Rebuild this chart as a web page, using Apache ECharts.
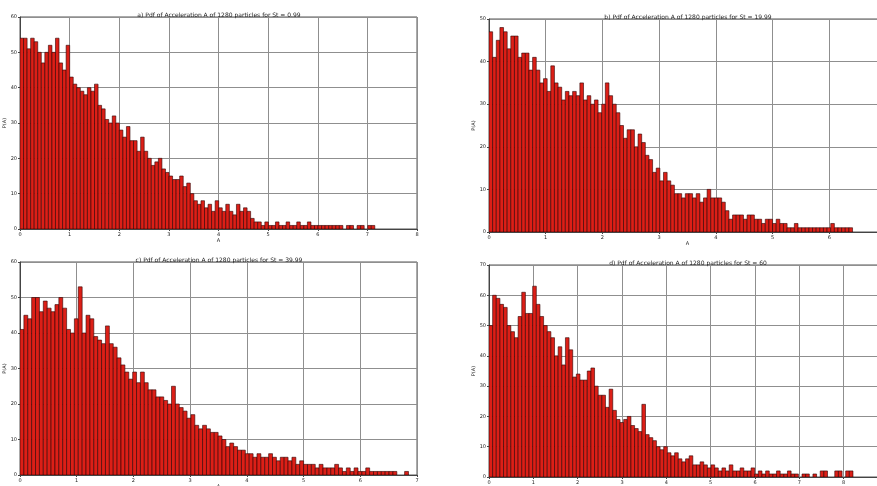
<!DOCTYPE html>
<html>
<head>
<meta charset="utf-8">
<script src="https://cdn.jsdelivr.net/npm/echarts@6/dist/echarts.min.js"></script>
<style>
html,body{margin:0;padding:0;background:#fff;}
#chart{width:877px;height:486px;}
</style>
</head>
<body>
<div id="chart"></div>
<script>
// Panel titles
const titles = [
  'a) Pdf of Acceleration A of 1280 particles for St = 0.99',
  'b) Pdf of Acceleration A of 1280 particles for St = 19.99',
  'c) Pdf of Acceleration A of 1280 particles for St = 39.99',
  'd) Pdf of Acceleration A of 1280 particles for St = 60'
];
// Histogram range (max A reached by last bin) per panel; 100 bins each
const rangeMax = [7.15, 6.41, 6.85, 8.21];
// Axis limits
const xMax = [8, 7, 7, 9];
const yMax = [60, 50, 60, 70];

// Bin counts P(A) (100 bins each)
const countsA = [54,54,51,54,53,50,47,50,52,50,54,47,45,52,43,41,40,39,38,40,
  39,41,35,34,31,30,32,30,28,26,29,25,25,22,26,22,20,18,19,20,
  17,16,15,14,14,15,12,13,10,8,7,8,6,7,5,8,6,5,7,5,
  4,7,5,6,5,3,2,2,1,2,1,1,2,1,1,2,1,1,2,1,
  1,2,1,1,1,1,1,1,1,1,1,0,1,1,0,1,1,0,1,1];
const countsB = [47,41,45,48,47,43,46,46,41,42,42,38,41,38,35,36,33,39,35,34,
  31,33,32,33,32,35,31,32,30,31,28,30,35,32,30,28,25,22,24,24,
  20,23,21,18,17,14,15,12,14,12,11,9,9,8,9,9,8,9,7,8,
  10,8,8,8,7,5,3,4,4,4,3,4,4,3,3,2,3,3,2,3,
  2,2,1,1,2,1,1,1,1,1,1,1,1,1,2,1,1,1,1,1];
const countsC = [41,45,44,50,50,46,49,47,46,48,50,47,41,40,44,53,40,45,44,39,
  38,37,42,37,36,33,31,29,27,29,26,29,26,24,24,22,22,21,20,25,
  20,19,18,16,17,14,13,14,13,12,12,11,10,8,9,8,7,7,6,6,
  5,6,5,5,6,5,4,5,5,4,5,3,4,3,3,3,2,3,2,2,
  2,3,2,1,2,1,2,1,1,2,1,1,1,1,1,1,1,0,0,1];
const countsD = [50,60,59,57,56,50,48,46,53,61,54,54,63,57,53,50,48,46,40,43,
  37,46,42,33,34,32,32,35,36,30,27,27,23,29,22,19,18,19,20,17,
  16,15,24,14,13,12,10,9,10,8,7,8,6,5,6,7,4,4,5,4,
  3,4,3,2,3,2,4,2,2,3,2,2,3,1,2,1,2,1,1,2,
  1,1,2,1,1,0,1,1,0,1,0,2,2,0,0,2,2,0,2,2];

const allCounts = [countsA, countsB, countsC, countsD];

const grids = [
  {left: 20, top: 17, width: 397, height: 212},
  {left: 489, top: 19, width: 397, height: 213},
  {left: 20, top: 262, width: 397, height: 213},
  {left: 489, top: 265, width: 399, height: 212}
];

const FONT = 'DejaVu Sans';
const textCol = '#222';

const option = {
  backgroundColor: '#fff',
  animation: false,
  title: [],
  grid: [],
  xAxis: [],
  yAxis: [],
  series: []
};

allCounts.forEach((counts, k) => {
  const g = grids[k];
  const w = rangeMax[k] / counts.length;
  option.grid.push(Object.assign({show: true, borderColor: '#555', borderWidth: 1, backgroundColor: 'transparent', containLabel: false, outerBoundsMode: 'none'}, g));
  option.title.push({
    text: titles[k],
    left: g.left + 194,
    top: g.top - 10,
    textAlign: 'center',
    textStyle: {fontFamily: FONT, fontSize: 6, fontWeight: 'normal', color: textCol}
  });
  option.xAxis.push({
    type: 'value', gridIndex: k, min: 0, max: xMax[k], interval: 1,
    name: 'A', nameLocation: 'middle', nameGap: 9,
    nameTextStyle: {fontFamily: FONT, fontSize: 5, color: textCol},
    axisLine: {show: true, lineStyle: {color: '#444', width: 1}},
    axisTick: {show: true, length: 2, lineStyle: {color: '#444'}},
    axisLabel: {fontFamily: FONT, fontSize: 5, color: textCol, margin: 3},
    splitLine: {show: true, lineStyle: {color: '#8f8f8f', width: 1}}
  });
  option.yAxis.push({
    type: 'value', gridIndex: k, min: 0, max: yMax[k], interval: 10,
    name: 'P(A)', nameLocation: 'middle', nameGap: 12, nameRotate: 90,
    nameTextStyle: {fontFamily: FONT, fontSize: 5, color: textCol},
    axisLine: {show: true, lineStyle: {color: '#444', width: 1}},
    axisTick: {show: true, length: 2, lineStyle: {color: '#444'}},
    axisLabel: {fontFamily: FONT, fontSize: 5, color: textCol, margin: 3},
    splitLine: {show: true, lineStyle: {color: '#8f8f8f', width: 1}}
  });
  const data = counts.map((c, i) => [i * w, (i + 1) * w, c]);
  option.series.push({
    type: 'custom', xAxisIndex: k, yAxisIndex: k,
    data: data,
    clip: true,
    encode: {x: [0, 1], y: 2},
    renderItem: function (params, api) {
      const y = api.value(2);
      if (y <= 0) return null;
      const p0 = api.coord([api.value(0), y]);
      const p1 = api.coord([api.value(1), 0]);
      return {
        type: 'rect',
        shape: {x: p0[0], y: p0[1], width: p1[0] - p0[0], height: p1[1] - p0[1]},
        style: {fill: '#dc1f17', stroke: 'rgba(45,0,0,0.85)', lineWidth: 0.7}
      };
    }
  });
});

const chart = echarts.init(document.getElementById('chart'), null, {renderer: 'canvas'});
chart.setOption(option);
</script>
</body>
</html>
